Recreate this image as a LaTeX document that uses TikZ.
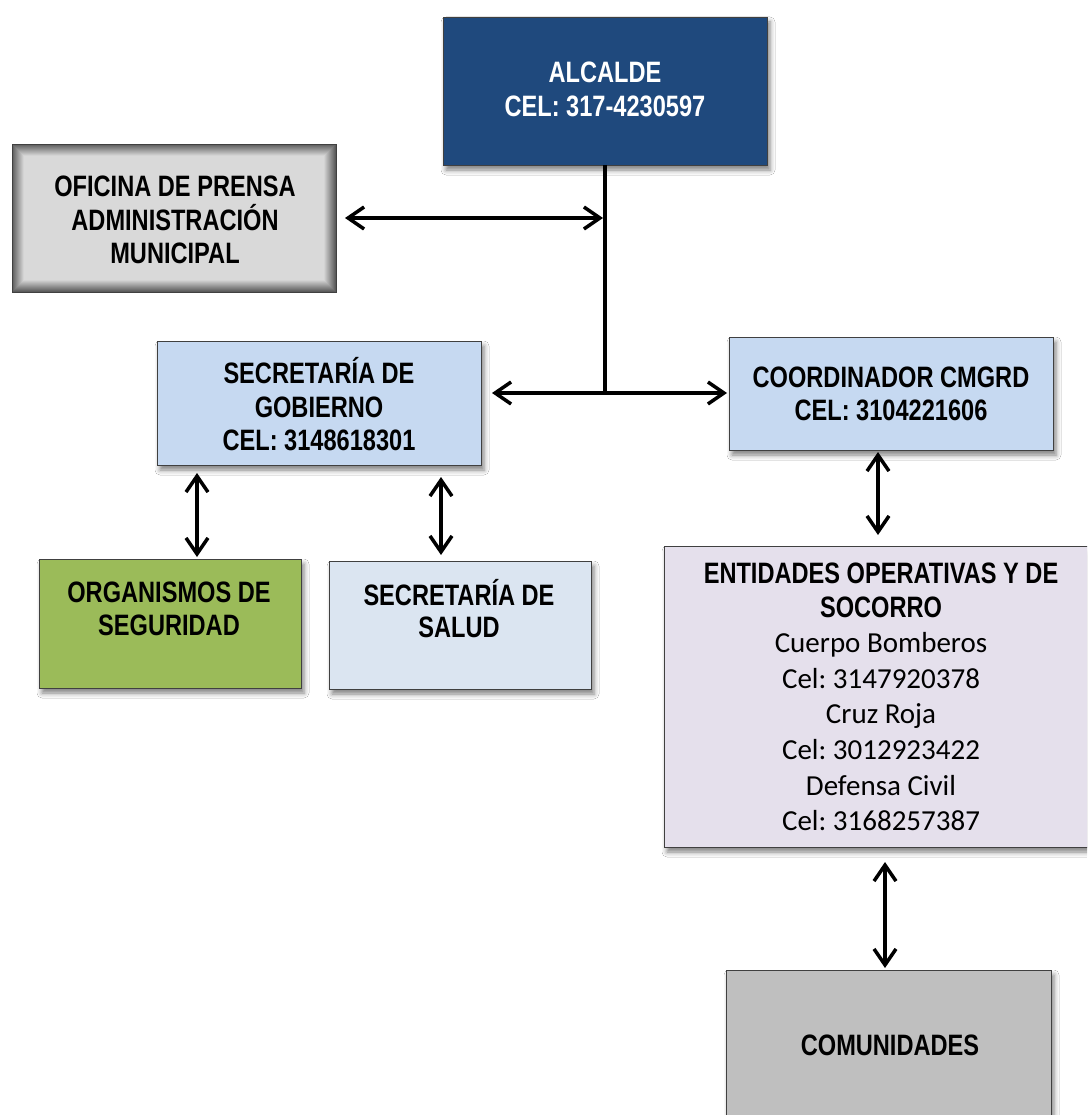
\documentclass[tikz,border=0pt]{standalone}
\usepackage{fontspec}
\setmainfont{Liberation Sans}
\newfontfamily\nb[FakeStretch=0.8]{Liberation Sans}
\newfontfamily\calfont{Carlito}
\usetikzlibrary{arrows.meta,shadows.blur}
\definecolor{alcblue}{HTML}{1F497D}
\definecolor{lblue}{HTML}{C6D9F1}
\definecolor{pblue}{HTML}{DBE5F1}
\definecolor{olive}{HTML}{9BBB59}
\definecolor{lilac}{HTML}{E5E0EC}
\definecolor{midgray}{HTML}{BFBFBF}
\definecolor{lgray}{HTML}{D9D9D9}
\frenchspacing
\begin{document}
\begin{tikzpicture}[x=1pt,y=-1pt,
  box/.style={draw=black!75, line width=0.8pt, inner sep=0pt, outer sep=0pt},
  shad/.style={blur shadow={shadow xshift=3pt, shadow yshift=-5pt, shadow blur radius=5pt, shadow opacity=50}},
  t/.style={font=\nb\bfseries\fontsize{29.5}{33}\selectfont, anchor=base, inner sep=0pt},
  r/.style={font=\calfont\fontsize{29}{35}\selectfont, anchor=base, inner sep=0pt},
  dbl/.style={line width=3.5pt, {Straight Barb[length=16pt,width=22pt]}-{Straight Barb[length=16pt,width=22pt]}},
  trunk/.style={line width=3.5pt}]
\clip (0,0) rectangle (1087,1115);
\fill[white] (0,0) rectangle (1087,1115);

% boxes
\node[box, shad, fill=alcblue, minimum width=324pt, minimum height=148pt] (alc) at (605,91) {};
\node[box, fill=lgray, minimum width=324pt, minimum height=148pt] (ofi) at (174,218) {};
\foreach \i [evaluate=\i as \op using 0.6*(1-\i/12)] in {0.5,1.5,...,11.5}
  \draw[black, opacity=\op, line width=1pt] ([xshift=\i pt, yshift=-\i pt]ofi.north west) rectangle ([xshift=-\i pt, yshift=\i pt]ofi.south east);
\draw[black!75, line width=0.8pt] (ofi.north west) rectangle (ofi.south east);
\node[box, shad, fill=lblue, minimum width=324pt, minimum height=124pt] (gob) at (319,403) {};
\node[box, shad, fill=lblue, minimum width=324pt, minimum height=113pt] (coord) at (891,393.5) {};
\node[box, shad, fill=olive, minimum width=262pt, minimum height=129pt] (org) at (170,623.5) {};
\node[box, shad, fill=pblue, minimum width=262pt, minimum height=128pt] (sal) at (460,625) {};
\node[box, shad, fill=lilac, minimum width=428pt, minimum height=301pt] (ent) at (878,696.5) {};
\node[box, shad, fill=midgray, minimum width=325pt, minimum height=160pt] (com) at (888.5,1050) {};

% texts
\node[t, text=white] (alc1) at (605,83) {ALCALDE};
\node[t, text=white] (alc2) at (605,117) {CEL: 317-4230597};
\node[t] (ofi1) at (175,197) {OFICINA DE PRENSA};
\node[t] (ofi2) at (175,230) {ADMINISTRACIÓN};
\node[t] (ofi3) at (175,263) {MUNICIPAL};
\node[t] (gob1) at (319,383) {SECRETARÍA DE};
\node[t] (gob2) at (319,417) {GOBIERNO};
\node[t] (gob3) at (319,450) {CEL: 3148618301};
\node[t] (coord1) at (891,387) {COORDINADOR CMGRD};
\node[t] (coord2) at (891,420) {CEL: 3104221606};
\node[t] (org1) at (169,602) {ORGANISMOS DE};
\node[t] (org2) at (169,635) {SEGURIDAD};
\node[t] (sal1) at (459,605) {SECRETARÍA DE};
\node[t] (sal2) at (459,637) {SALUD};
\node[t] (ent1) at (881,583) {ENTIDADES OPERATIVAS Y DE};
\node[t] (ent2) at (881,617) {SOCORRO};
\node[r] (ent3) at (881,652) {Cuerpo Bomberos};
\node[r] (ent4) at (881,688) {Cel: 3147920378};
\node[r] (ent5) at (881,723) {Cruz Roja};
\node[r] (ent6) at (881,759) {Cel: 3012923422};
\node[r] (ent7) at (881,795) {Defensa Civil};
\node[r] (ent8) at (881,830) {Cel: 3168257387};
\node[t] (com1) at (890,1055) {COMUNIDADES};

% connectors
\coordinate (j1) at (alc.south |- ofi.east);
\coordinate (j2) at (605,393);
\draw[trunk] (alc.south) -- (j2);
\draw[dbl, shorten <=9pt, shorten >=2pt] (ofi.east) -- (j1);
\draw[dbl, shorten <=11pt, shorten >=2pt] (gob.east |- j2) -- (coord.west |- j2);
\coordinate (a1) at ([xshift=40pt]gob.south west);
\draw[dbl, shorten <=8pt, shorten >=2pt] (a1) -- (a1 |- org.north);
\coordinate (a2) at ([xshift=284pt]gob.south west);
\draw[dbl, shorten <=12pt, shorten >=6pt] (a2) -- (a2 |- sal.north);
\coordinate (a3) at ([xshift=149pt]coord.south west);
\draw[dbl, shorten <=2pt, shorten >=11pt] (a3) -- (a3 |- ent.north);
\coordinate (a4) at ([xshift=159pt]com.north west);
\draw[dbl, shorten <=15pt, shorten >=2pt] (a4 |- ent.south) -- (a4);
\end{tikzpicture}
\end{document}
